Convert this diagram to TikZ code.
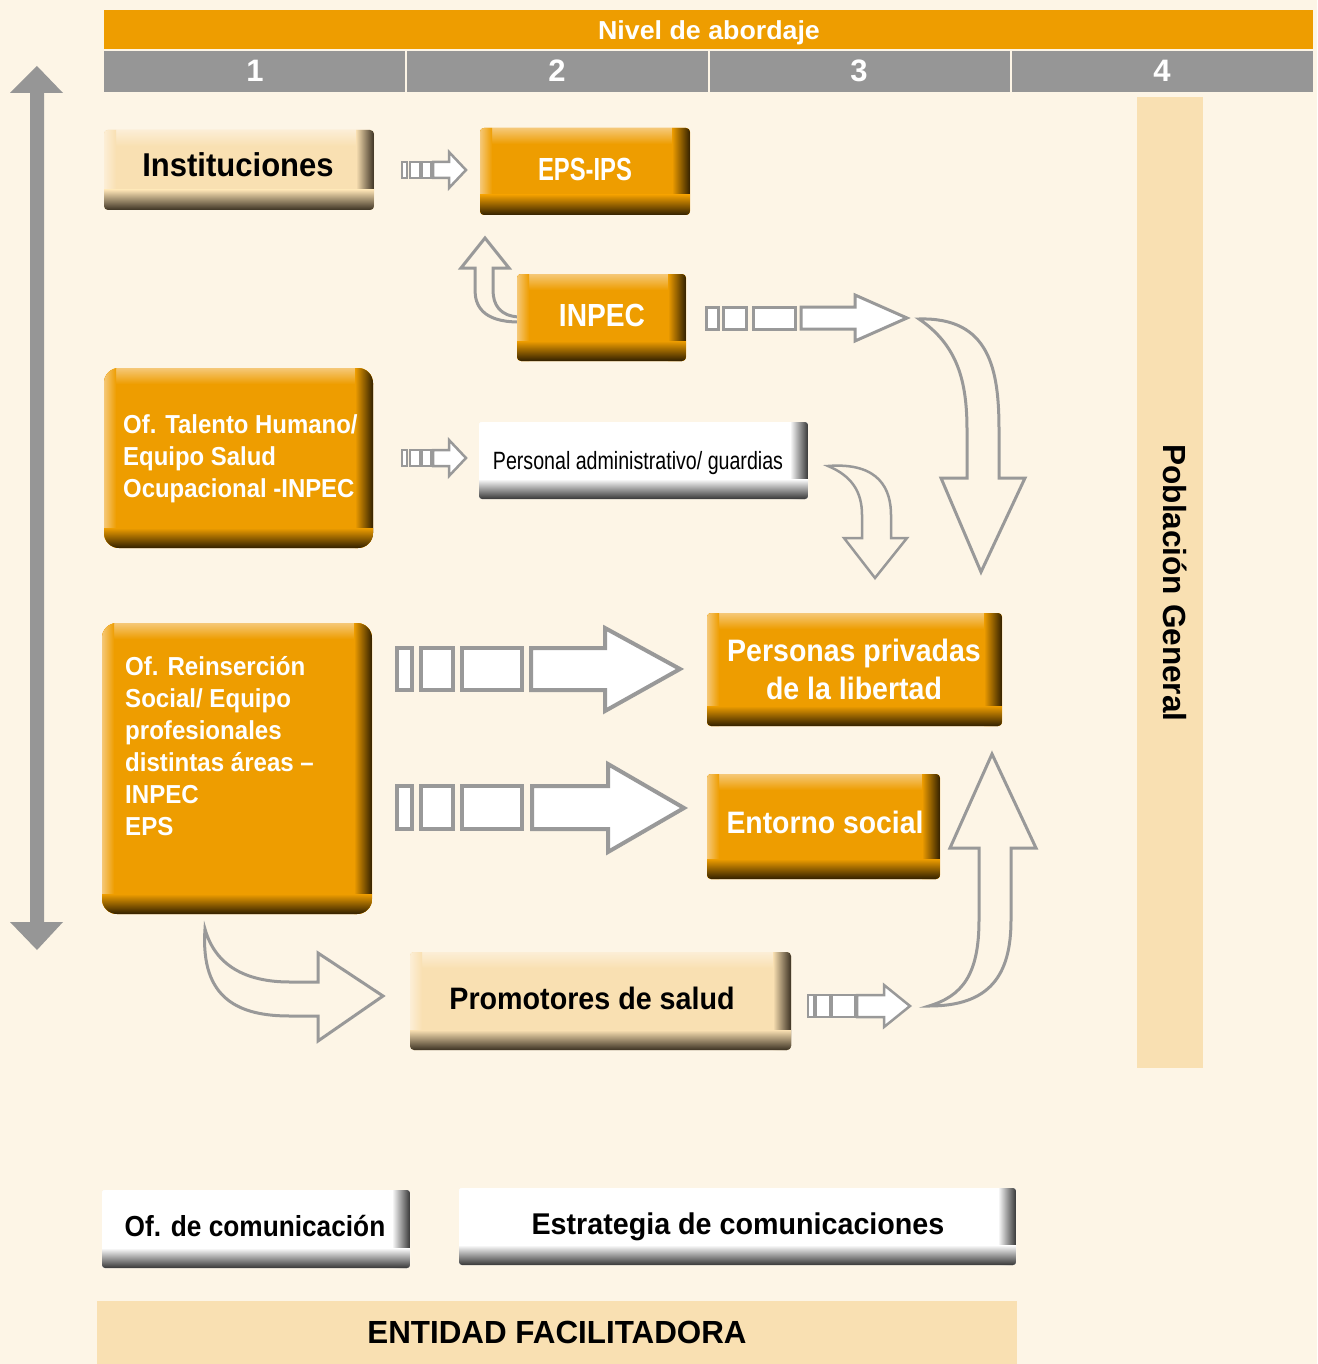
\documentclass[tikz,border=0pt]{standalone}
\usepackage{fontspec}
\setmainfont{Liberation Sans}
\usetikzlibrary{calc}
\definecolor{bg}{RGB}{253,245,230}
\definecolor{org}{RGB}{238,157,0}
\definecolor{orgdk}{RGB}{50,32,0}
\definecolor{orglt}{RGB}{245,200,120}
\definecolor{peach}{RGB}{249,224,178}
\definecolor{peachdk}{RGB}{60,50,35}
\definecolor{peachlt}{RGB}{252,238,214}
\definecolor{wdk}{RGB}{55,55,55}
\definecolor{wlt}{RGB}{255,255,255}
\definecolor{barg}{RGB}{150,150,150}
\definecolor{arrg}{RGB}{153,153,153}
\newcommand\tx[3]{\scalebox{#2}[1]{\fontsize{#1}{#1}\selectfont #3}}
\newcommand\bx[6]{\node[#6, minimum width={#4-#2}, minimum height={#5-#3}] (#1) at ({(#2+#4)/2},{(#3+#5)/2}) {};}
\tikzset{
  bevel/.style n args={3}{rectangle, inner sep=0pt, draw=none, fill=#1, path picture={
    \coordinate (pSW) at (path picture bounding box.south west);
    \coordinate (pNE) at (path picture bounding box.north east);
    \coordinate (pNW) at (pSW|-pNE);
    \coordinate (pSE) at (pNE|-pSW);
    \fill[sharp corners, top color=#3, bottom color=#1] (pNW) rectangle ($(pNE)+(0,-16pt)$);
    \fill[sharp corners, left color=#3, right color=#1] (pSW) rectangle ($(pNW)+(12pt,0)$);
    \fill[sharp corners, left color=#1, right color=#2] ($(pSE)+(-18pt,0)$) rectangle (pNE);
    \fill[sharp corners, top color=#1, bottom color=#2] (pSW) rectangle ($(pSE)+(0,20pt)$);
  }},
  obox/.style={bevel={org}{orgdk}{orglt}, rounded corners=4pt},
  obigbox/.style={bevel={org}{orgdk}{orglt}, rounded corners=15pt},
  pbox/.style={bevel={peach}{peachdk}{peachlt}, rounded corners=4pt},
  wbox/.style={bevel={white}{wdk}{wlt}, rounded corners=3pt},
  plain/.style={inner sep=0pt, draw=none},
  lbl/.style={inner sep=0pt, anchor=base},
  lblw/.style={inner sep=0pt, anchor=base west},
  barr/.style={draw=arrg, line width=3pt, fill=white, line join=miter},
  barrb/.style={draw=arrg, line width=4pt, fill=white, line join=miter},
  carr/.style={draw=arrg, line width=3pt, fill=none, line join=miter},
}
\begin{document}
\begin{tikzpicture}[x=1pt,y=-1pt]
\fill[bg] (0,0) rectangle (1317,1364);
\useasboundingbox (0,0) rectangle (1317,1364);

% header bars
\bx{nivelbar}{104}{10}{1313}{49}{plain, fill=org}
\node[lbl, text=white] (niveltxt) at (709,40) {\tx{26}{1.03}{\bfseries Nivel de abordaje}};
\bx{c1}{104}{51}{405}{92}{plain, fill=barg}
\bx{c2}{407}{51}{708}{92}{plain, fill=barg}
\bx{c3}{710}{51}{1010}{92}{plain, fill=barg}
\bx{c4}{1012}{51}{1313}{92}{plain, fill=barg}
\node[lbl, text=white] (n1) at (255,82) {\tx{31}{1}{\bfseries 1}};
\node[lbl, text=white] (n2) at (557,82) {\tx{31}{1}{\bfseries 2}};
\node[lbl, text=white] (n3) at (859,82) {\tx{31}{1}{\bfseries 3}};
\node[lbl, text=white] (n4) at (1162,82) {\tx{31}{1}{\bfseries 4}};

% left double arrow
\fill[barg] (37,66) -- (63,93) -- (44,93) -- (44,922) -- (63,922) -- (37,950) -- (10,922) -- (30,922) -- (30,93) -- (10,93) -- cycle;

% right column
\bx{pobcol}{1137}{97}{1203}{1068}{plain, fill=peach}
\node[lbl, rotate=-90] (pobtxt) at (1163,583) {\tx{32}{0.986}{\bfseries Población General}};

% bottom bar
\bx{entbar}{97}{1301}{1017}{1364}{plain, fill=peach}
\node[lbl] (enttxt) at (557,1343) {\tx{32}{0.98}{\bfseries ENTIDAD FACILITADORA}};

% ---- arrows ----
% Instituciones -> EPS-IPS
\draw[barr, line width=2.5pt] (402,162) rectangle (407,178) (410,162) rectangle (420,178) (422,162) rectangle (431,178);
\draw[barr, line width=2.5pt] (433,162) -- (449,162) -- (449,152) -- (466,170) -- (449,188) -- (449,178) -- (433,178) -- cycle;
% Talento -> Personal
\draw[barr, line width=2.5pt] (402,450) rectangle (407,466) (410,450) rectangle (420,466) (422,450) rectangle (431,466);
\draw[barr, line width=2.5pt] (433,450) -- (449,450) -- (449,440) -- (466,458) -- (449,476) -- (449,466) -- (433,466) -- cycle;
% INPEC -> right
\draw[barr] (706,307) rectangle (718,329) (723,307) rectangle (746,329) (753,307) rectangle (795,329);
\draw[barr] (801,307) -- (855,307) -- (855,295) -- (907,318) -- (855,341) -- (855,329) -- (801,329) -- cycle;
% Reinsercion -> Personas
\draw[barrb] (397,648) rectangle (412,690) (421,648) rectangle (453,690) (462,648) rectangle (522,690);
\draw[barrb] (531,648) -- (605,648) -- (605,628) -- (680,669) -- (605,711) -- (605,690) -- (531,690) -- cycle;
% Reinsercion -> Entorno
\draw[barrb] (397,786) rectangle (412,829) (421,786) rectangle (453,829) (462,786) rectangle (522,829);
\draw[barrb] (532,786) -- (608,786) -- (608,764) -- (684,808) -- (608,852) -- (608,829) -- (532,829) -- cycle;
% Promotores -> right
\draw[barr, line width=2.5pt] (808,995) rectangle (814,1017) (816,995) rectangle (830,1017) (832,995) rectangle (855,1017);
\draw[barr, line width=2.5pt] (857,995) -- (884,995) -- (884,985) -- (910,1006) -- (884,1027) -- (884,1017) -- (857,1017) -- cycle;

% curved: INPEC -> EPS-IPS
\draw[carr] (519,322) .. controls (482,322) and (475,305) .. (475,290) -- (475,268) -- (461,268) -- (485,238) -- (509,268) -- (493,268) -- (493,290) .. controls (493,305) and (500,316) .. (519,317);
% curved big down arrow
\draw[carr] (919,319) .. controls (990,317) and (999,370) .. (999,430) -- (999,478) -- (1025,478) -- (981,572) -- (941,478) -- (967,478) -- (967,430) .. controls (967,380) and (957,345) .. (919,319) -- cycle;
% curved small down arrow
\draw[carr, line width=2.5pt] (828,466) .. controls (880,462) and (891,490) .. (891,515) -- (891,538) -- (907,538) -- (875,578) -- (844,538) -- (862,538) -- (862,515) .. controls (862,492) and (852,476) .. (828,466) -- cycle;
% curved up arrow
\draw[carr] (929,1006) .. controls (990,1006) and (1011,975) .. (1011,920) -- (1011,848) -- (1036,848) -- (992,754) -- (950,848) -- (979,848) -- (979,920) .. controls (979,975) and (962,996) .. (929,1006) -- cycle;
% curved Reinsercion -> Promotores
\draw[carr] (205,929) .. controls (200,1000) and (240,1016) .. (290,1016) -- (318,1016) -- (318,1041) -- (383,996) -- (318,953) -- (318,982) -- (290,982) .. controls (245,982) and (215,965) .. (205,929) -- cycle;

% ---- boxes ----
\bx{inst}{104}{130}{374}{210}{pbox}
\node[lbl] (insttxt) at (238,177) {\tx{33}{0.94}{\bfseries Instituciones}};
\bx{eps}{480}{128}{690}{215}{obox}
\node[lbl, text=white] (epstxt) at (585,181) {\tx{32}{0.744}{\bfseries EPS-IPS}};
\bx{inpec}{517}{274}{686}{361}{obox}
\node[lbl, text=white] (inpectxt) at (602,326) {\tx{32}{0.88}{\bfseries INPEC}};
\bx{talento}{104}{368}{373}{548}{obigbox}
\node[lblw, text=white] (talentotxt) at (123,433) {\scalebox{0.92}[1]{\fontsize{26}{32}\selectfont\bfseries\begin{tabular}[t]{@{}l@{}}Of. Talento Humano/\\Equipo Salud\\Ocupacional -INPEC\end{tabular}}};
\bx{personal}{479}{422}{808}{499}{wbox}
\node[lbl] (personaltxt) at (638,469) {\tx{25}{0.785}{Personal administrativo/ guardias}};
\bx{reins}{102}{623}{372}{914}{obigbox}
\node[lblw, text=white] (reinstxt) at (125,675) {\scalebox{0.926}[1]{\fontsize{26}{32}\selectfont\bfseries\begin{tabular}[t]{@{}l@{}}Of. Reinserción\\Social/ Equipo\\profesionales\\distintas áreas –\\INPEC\\EPS\end{tabular}}};
\bx{personas}{707}{613}{1002}{726}{obox}
\node[lbl, text=white] (personastxt) at (854,661) {\scalebox{0.92}[1]{\fontsize{31}{38}\selectfont\bfseries\begin{tabular}[t]{@{}c@{}}Personas privadas\\de la libertad\end{tabular}}};
\bx{entorno}{707}{774}{940}{879}{obox}
\node[lbl, text=white] (entornotxt) at (825,833) {\tx{31}{0.915}{\bfseries Entorno social}};
\bx{promot}{410}{952}{791}{1050}{pbox}
\node[lbl] (promottxt) at (592,1009) {\tx{31}{0.925}{\bfseries Promotores de salud}};
\bx{ofcom}{102}{1190}{410}{1268}{wbox}
\node[lbl] (ofcomtxt) at (255,1236) {\tx{29}{0.905}{\bfseries Of. de comunicación}};
\bx{estrat}{459}{1188}{1016}{1265}{wbox}
\node[lbl] (estrattxt) at (738,1234) {\tx{30}{0.956}{\bfseries Estrategia de comunicaciones}};
\end{tikzpicture}
\end{document}
